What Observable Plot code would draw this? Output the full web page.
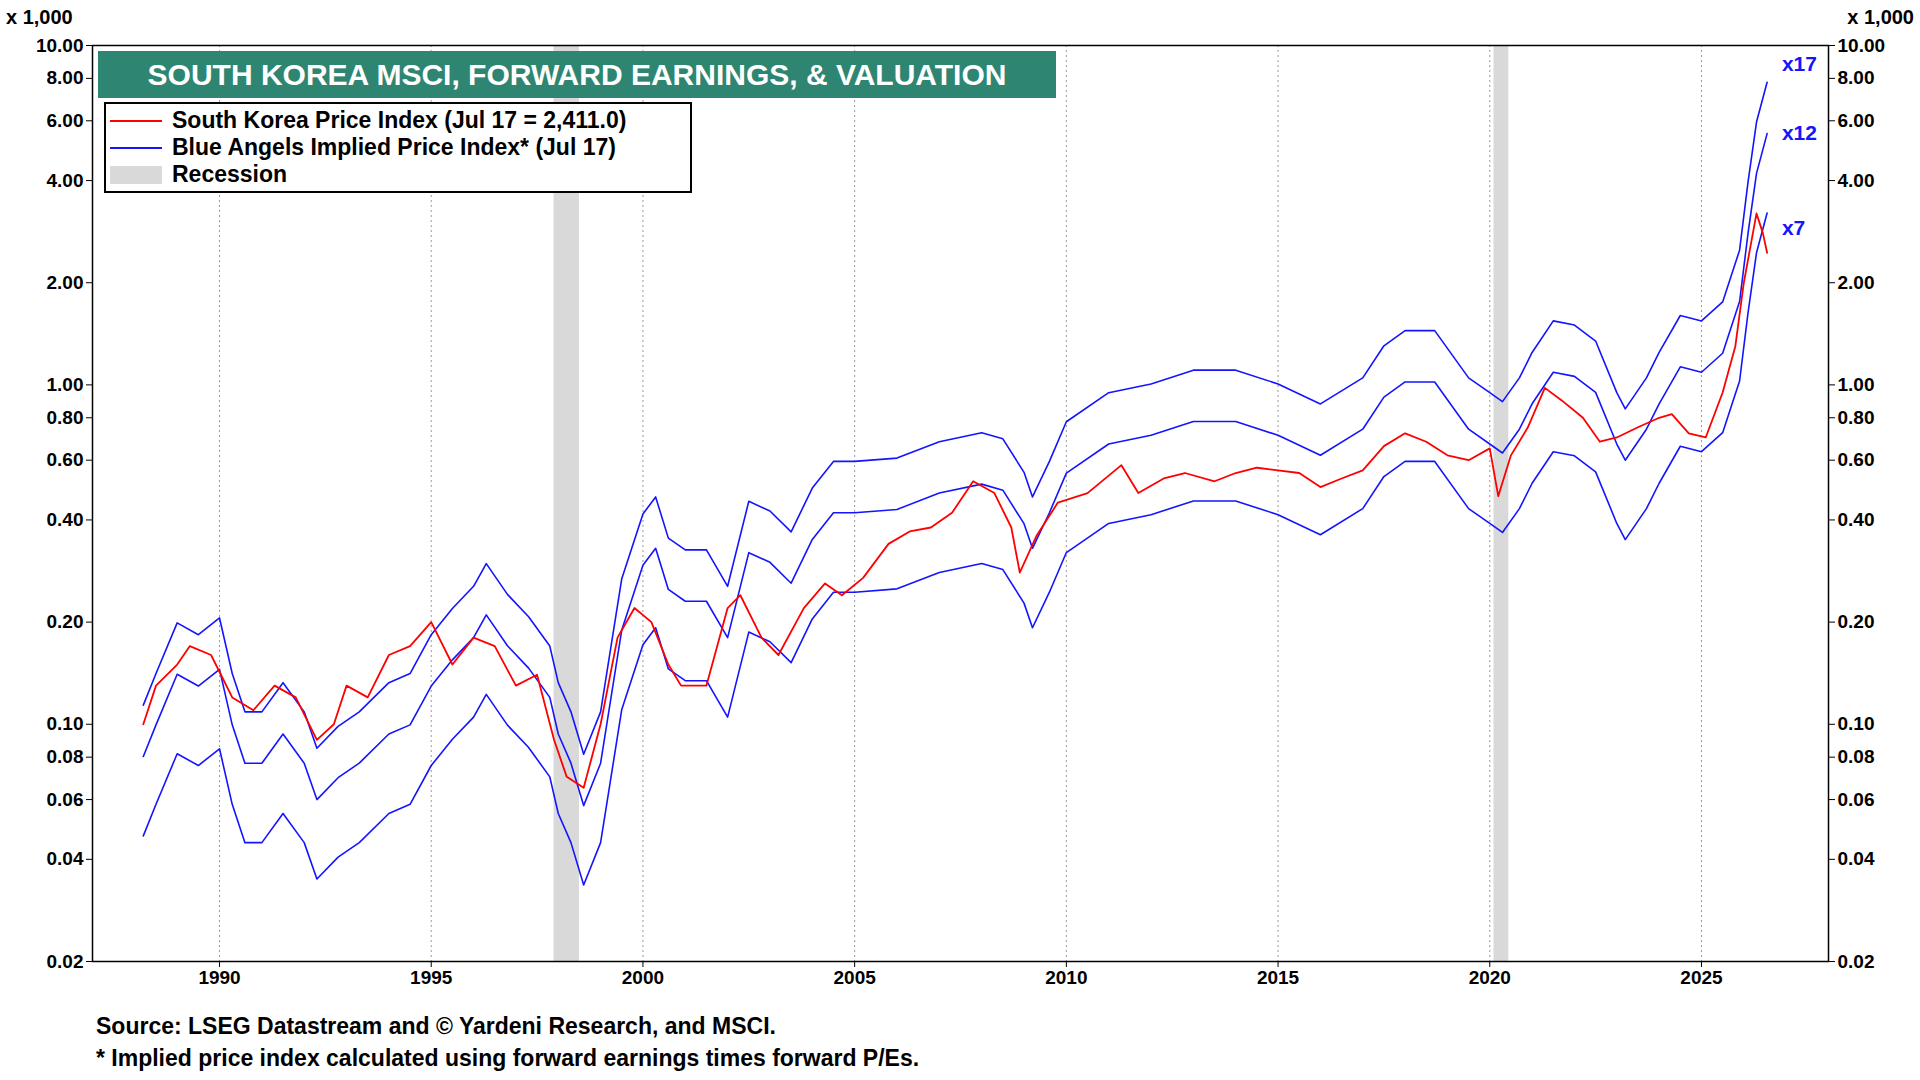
<!DOCTYPE html>
<html><head><meta charset="utf-8">
<script src="https://cdn.jsdelivr.net/npm/d3@7"></script>
<script src="https://cdn.jsdelivr.net/npm/@observablehq/plot@0.6"></script>
<style>
body{margin:0;background:#fff;font-family:Arial,"Liberation Sans",sans-serif;}
#wrap{position:relative;width:1920px;height:1080px;}
.t{position:absolute;font-weight:bold;white-space:nowrap;}
</style></head><body><div id="wrap"></div>
<script>
const earnYears=[1988.2,1988.5,1989.0,1989.5,1990.0,1990.3,1990.6,1991.0,1991.5,1992.0,1992.3,1992.8,1993.3,1994.0,1994.5,1995.0,1995.5,1996.0,1996.3,1996.8,1997.3,1997.8,1998.0,1998.3,1998.6,1999.0,1999.5,2000.0,2000.3,2000.6,2001.0,2001.5,2002.0,2002.5,2003.0,2003.5,2004.0,2004.5,2005.0,2006.0,2007.0,2008.0,2008.5,2009.0,2009.2,2009.6,2010.0,2011.0,2012.0,2013.0,2014.0,2015.0,2016.0,2017.0,2017.5,2018.0,2018.7,2019.5,2020.0,2020.3,2020.7,2021.0,2021.5,2022.0,2022.5,2023.0,2023.2,2023.7,2024.0,2024.5,2025.0,2025.5,2025.9,2026.1,2026.3,2026.55];
const fwdEarnings=[6.7,8.3,11.7,10.8,12.1,8.3,6.4,6.4,7.8,6.4,5.0,5.8,6.4,7.8,8.3,10.8,12.9,15.0,17.5,14.2,12.2,10.0,7.8,6.4,4.8,6.4,15.8,24.5,27.5,20.8,19.2,19.2,15.0,26.7,25.0,21.7,29.2,35.0,35.0,35.8,40.0,42.5,40.8,32.5,27.5,35.0,45.8,55.8,59.2,65.0,65.0,59.2,51.7,61.7,76.7,85.0,85.0,61.7,55.8,52.5,61.7,73.3,90.8,88.3,79.2,55.8,50.0,61.7,73.3,94.2,90.8,103.3,146.7,233.3,350.0,458.3];
const multiples=[17,12,7];
const priceYears=[1988.2,1988.5,1989.0,1989.3,1989.8,1990.3,1990.8,1991.3,1991.8,1992.3,1992.7,1993.0,1993.5,1994.0,1994.5,1995.0,1995.5,1996.0,1996.5,1997.0,1997.5,1997.9,1998.2,1998.6,1999.0,1999.4,1999.8,2000.2,2000.6,2000.9,2001.5,2002.0,2002.3,2002.8,2003.2,2003.8,2004.3,2004.7,2005.2,2005.8,2006.3,2006.8,2007.3,2007.8,2008.3,2008.7,2008.9,2009.3,2009.8,2010.5,2011.3,2011.7,2012.3,2012.8,2013.5,2014.0,2014.5,2015.0,2015.5,2016.0,2016.5,2017.0,2017.5,2018.0,2018.5,2019.0,2019.5,2020.0,2020.2,2020.5,2020.9,2021.3,2021.7,2022.2,2022.6,2023.0,2023.5,2024.0,2024.3,2024.7,2025.1,2025.5,2025.8,2026.0,2026.3,2026.45,2026.55];
const price=[0.10,0.13,0.15,0.17,0.16,0.12,0.11,0.13,0.12,0.09,0.10,0.13,0.12,0.16,0.17,0.20,0.15,0.18,0.17,0.13,0.14,0.09,0.07,0.065,0.10,0.18,0.22,0.20,0.15,0.13,0.13,0.22,0.24,0.18,0.16,0.22,0.26,0.24,0.27,0.34,0.37,0.38,0.42,0.52,0.48,0.38,0.28,0.36,0.45,0.48,0.58,0.48,0.53,0.55,0.52,0.55,0.57,0.56,0.55,0.50,0.53,0.56,0.66,0.72,0.68,0.62,0.60,0.65,0.47,0.62,0.75,0.98,0.90,0.80,0.68,0.70,0.75,0.80,0.82,0.72,0.70,0.95,1.3,2.0,3.2,2.8,2.45];
const recessions=[[1997.9,1998.5],[2020.1,2020.45]];
const yTicks=[0.02,0.04,0.06,0.08,0.1,0.2,0.4,0.6,0.8,1,2,4,6,8,10];
const xTicks=[1990,1995,2000,2005,2010,2015,2020,2025];

const blue=[];
multiples.forEach(m=>earnYears.forEach((y,i)=>blue.push({m,x:y,v:fwdEarnings[i]*m/1000})));
const red=priceYears.map((y,i)=>({x:y,v:price[i]}));
const labY=[8.8,5.5,2.9];
const lab=multiples.map((m,i)=>({m,v:labY[i]}));
const fmt=d=>d.toFixed(2);
const chart=Plot.plot({
  width:1920,height:1000,marginLeft:92,marginRight:92,marginTop:45,marginBottom:39,
  style:{fontFamily:"Arial, 'Liberation Sans', sans-serif",fontSize:"19px",fontWeight:"bold",color:"#000",background:"#fff"},
  x:{domain:[1987,2028],ticks:xTicks,tickFormat:d=>String(d),label:null,tickSize:6},
  y:{type:"log",domain:[0.02,10],label:null},
  marks:[
    Plot.rectX(recessions,{x1:d=>d[0],x2:d=>d[1],y1:0.02,y2:10,fill:"#d9d9d9"}),
    Plot.ruleX(xTicks,{stroke:"#999",strokeDasharray:"2,3",strokeWidth:1}),
    Plot.line(blue,{x:"x",y:"v",z:"m",stroke:"#1414ff",strokeWidth:1.6}),
    Plot.line(red,{x:"x",y:"v",stroke:"#ff0000",strokeWidth:1.8}),
    Plot.text(lab,{x:2026.9,y:"v",text:d=>"x"+d.m,fill:"#1414ff",textAnchor:"start",fontSize:21,fontWeight:"bold"}),
    Plot.axisY(yTicks,{anchor:"left",tickFormat:fmt,tickSize:6}),
    Plot.axisY(yTicks,{anchor:"right",tickFormat:fmt,tickSize:6}),
    Plot.frame({stroke:"#000",strokeWidth:1.5})
  ]
});
const wrap=document.getElementById("wrap");
chart.style.position="absolute";chart.style.left="0";chart.style.top="0";
wrap.appendChild(chart);
const add=(html,css)=>{const d=document.createElement("div");d.className="t";d.innerHTML=html;Object.assign(d.style,css);wrap.appendChild(d);return d;};
add("x 1,000",{left:"6px",top:"6px",fontSize:"20px"});
add("x 1,000",{right:"6px",top:"6px",fontSize:"20px"});
add("SOUTH KOREA MSCI, FORWARD EARNINGS, &amp; VALUATION",{left:"98px",top:"51px",width:"958px",height:"47px",lineHeight:"47px",background:"#2e8672",color:"#fff",fontSize:"30px",textAlign:"center"});
add(`<div style="display:flex;align-items:center;height:27px"><span style="display:inline-block;width:52px;height:2px;background:#f00;margin:0 10px 0 4px"></span>South Korea Price Index (Jul 17 = 2,411.0)</div>
<div style="display:flex;align-items:center;height:27px"><span style="display:inline-block;width:52px;height:2px;background:#1414ff;margin:0 10px 0 4px"></span>Blue Angels Implied Price Index* (Jul 17)</div>
<div style="display:flex;align-items:center;height:27px"><span style="display:inline-block;width:52px;height:18px;background:#d9d9d9;margin:0 10px 0 4px"></span>Recession</div>`,
 {left:"104px",top:"102px",width:"588px",height:"91px",border:"2px solid #000",background:"#fff",fontSize:"23px",paddingTop:"3px",boxSizing:"border-box"});
add("Source: LSEG Datastream and © Yardeni Research, and MSCI.",{left:"96px",top:"1013px",fontSize:"23px"});
add("* Implied price index calculated using forward earnings times forward P/Es.",{left:"96px",top:"1045px",fontSize:"23px"});
</script></body></html>
